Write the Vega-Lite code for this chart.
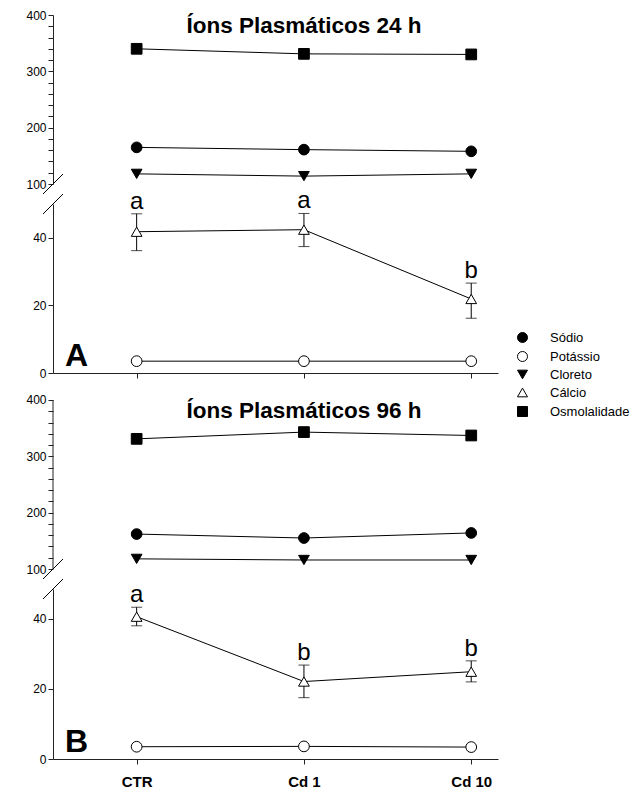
{
  "$schema": "https://vega.github.io/schema/vega-lite/v6.json",
  "background": "white",
  "padding": {"left": 25, "top": 9, "right": 5, "bottom": 5},
  "config": {
    "font": "Liberation Sans",
    "view": {"stroke": null},
    "axis": {"grid": false, "domainColor": "#222", "tickColor": "#222", "labelColor": "#000", "labelFont": "Liberation Sans", "labelFontSize": 12, "domainWidth": 1, "tickWidth": 1, "labelOverlap": false}
  },
  "datasets": {
    "ions": [
      {"painel": "A", "ion": "Sódio", "grupo": "CTR", "idx": 0, "valor": 165},
      {"painel": "A", "ion": "Sódio", "grupo": "Cd 1", "idx": 1, "valor": 161},
      {"painel": "A", "ion": "Sódio", "grupo": "Cd 10", "idx": 2, "valor": 158},
      {"painel": "A", "ion": "Potássio", "grupo": "CTR", "idx": 0, "valor": 3.5},
      {"painel": "A", "ion": "Potássio", "grupo": "Cd 1", "idx": 1, "valor": 3.5},
      {"painel": "A", "ion": "Potássio", "grupo": "Cd 10", "idx": 2, "valor": 3.5},
      {"painel": "A", "ion": "Cloreto", "grupo": "CTR", "idx": 0, "valor": 118},
      {"painel": "A", "ion": "Cloreto", "grupo": "Cd 1", "idx": 1, "valor": 114},
      {"painel": "A", "ion": "Cloreto", "grupo": "Cd 10", "idx": 2, "valor": 118},
      {"painel": "A", "ion": "Cálcio", "grupo": "CTR", "idx": 0, "valor": 41.8, "lo": 36.2, "hi": 47.1, "letra": "a"},
      {"painel": "A", "ion": "Cálcio", "grupo": "Cd 1", "idx": 1, "valor": 42.4, "lo": 37.4, "hi": 47.2, "letra": "a"},
      {"painel": "A", "ion": "Cálcio", "grupo": "Cd 10", "idx": 2, "valor": 21.9, "lo": 16.2, "hi": 26.6, "letra": "b"},
      {"painel": "A", "ion": "Osmolalidade", "grupo": "CTR", "idx": 0, "valor": 340},
      {"painel": "A", "ion": "Osmolalidade", "grupo": "Cd 1", "idx": 1, "valor": 331},
      {"painel": "A", "ion": "Osmolalidade", "grupo": "Cd 10", "idx": 2, "valor": 330},
      {"painel": "B", "ion": "Sódio", "grupo": "CTR", "idx": 0, "valor": 162},
      {"painel": "B", "ion": "Sódio", "grupo": "Cd 1", "idx": 1, "valor": 155},
      {"painel": "B", "ion": "Sódio", "grupo": "Cd 10", "idx": 2, "valor": 164},
      {"painel": "B", "ion": "Potássio", "grupo": "CTR", "idx": 0, "valor": 3.5},
      {"painel": "B", "ion": "Potássio", "grupo": "Cd 1", "idx": 1, "valor": 3.6},
      {"painel": "B", "ion": "Potássio", "grupo": "Cd 10", "idx": 2, "valor": 3.4},
      {"painel": "B", "ion": "Cloreto", "grupo": "CTR", "idx": 0, "valor": 118},
      {"painel": "B", "ion": "Cloreto", "grupo": "Cd 1", "idx": 1, "valor": 116},
      {"painel": "B", "ion": "Cloreto", "grupo": "Cd 10", "idx": 2, "valor": 116},
      {"painel": "B", "ion": "Cálcio", "grupo": "CTR", "idx": 0, "valor": 40.6, "lo": 38.0, "hi": 43.3, "letra": "a"},
      {"painel": "B", "ion": "Cálcio", "grupo": "Cd 1", "idx": 1, "valor": 22.1, "lo": 17.5, "hi": 26.8, "letra": "b"},
      {"painel": "B", "ion": "Cálcio", "grupo": "Cd 10", "idx": 2, "valor": 24.9, "lo": 22.0, "hi": 28.0, "letra": "b"},
      {"painel": "B", "ion": "Osmolalidade", "grupo": "CTR", "idx": 0, "valor": 331},
      {"painel": "B", "ion": "Osmolalidade", "grupo": "Cd 1", "idx": 1, "valor": 343},
      {"painel": "B", "ion": "Osmolalidade", "grupo": "Cd 10", "idx": 2, "valor": 337}
    ],
    "rotulos": [
      {"painel": "A", "titulo": "Íons Plasmáticos 24 h", "letra": "A"},
      {"painel": "B", "titulo": "Íons Plasmáticos 96 h", "letra": "B"}
    ]
  },
  "bounds": "flush",
  "spacing": 20,
  "vconcat": [
    {
      "width": 445, "height": 169,
      "layer": [
        {
          "data": {"name": "ions"},
          "transform": [{"filter": "datum.painel === 'A' && (datum.ion === 'Sódio' || datum.ion === 'Cloreto' || datum.ion === 'Osmolalidade')"}],
          "mark": {"type": "line", "color": "black", "strokeWidth": 1},
          "encoding": {
            "x": {"field": "idx", "type": "quantitative", "scale": {"domain": [-0.5, 2.16], "nice": false, "zero": false}, "axis": null},
            "y": {"field": "valor", "type": "quantitative", "scale": {"domain": [100, 400], "nice": false, "zero": false},
              "axis": {"title": null, "values": [100, 120, 140, 160, 180, 200, 220, 240, 260, 280, 300, 320, 340, 360, 380, 400], "labelExpr": "datum.value % 100 === 0 ? datum.label : ''", "labelOverlap": false, "tickSize": 5, "labelPadding": 2, "labelFontSize": 12, "encode": {"ticks": {"update": {"x2": {"value": {"expr": "datum.value % 100 === 0 ? -5 : -3"}}}}}}},
            "detail": {"field": "ion"}
          }
        },
        {
          "data": {"name": "ions"},
          "transform": [{"filter": "datum.painel === 'A' && (datum.ion === 'Sódio' || datum.ion === 'Cloreto' || datum.ion === 'Osmolalidade')"}],
          "mark": {"type": "point", "filled": true, "stroke": "black", "strokeWidth": 1, "opacity": 1, "size": 115},
          "encoding": {
            "x": {"field": "idx", "type": "quantitative", "axis": null},
            "y": {"field": "valor", "type": "quantitative",
              "axis": {"title": null, "values": [100, 120, 140, 160, 180, 200, 220, 240, 260, 280, 300, 320, 340, 360, 380, 400], "labelExpr": "datum.value % 100 === 0 ? datum.label : ''", "labelOverlap": false, "tickSize": 5, "labelPadding": 2, "labelFontSize": 12, "encode": {"ticks": {"update": {"x2": {"value": {"expr": "datum.value % 100 === 0 ? -5 : -3"}}}}}}},
            "shape": {"field": "ion", "type": "nominal", "scale": {"domain": ["Sódio", "Potássio", "Cloreto", "Cálcio", "Osmolalidade"], "range": ["circle", "circle", "triangle-down", "triangle-up", "square"]},
              "legend": {"title": null, "orient": "none", "legendX": 463, "legendY": 316, "padding": 0, "labelFont": "Liberation Sans", "labelFontSize": 13, "labelColor": "black", "labelOffset": 21, "symbolSize": 100, "symbolStrokeWidth": 1, "symbolStrokeColor": "black", "symbolOpacity": 1, "rowPadding": 4,
                "encode": {"symbols": {"update": {"stroke": {"value": "black"}, "strokeWidth": {"value": 1}, "shape": {"value": {"expr": "datum.value === 'Cloreto' ? 'M-3,0H-0.5M0.5,0H3M-1,-0.85L1,-0.85L0,0.9Z' : datum.value === 'Cálcio' ? 'M-3,0H-0.5M0.5,0H3M-1,0.85L1,0.85L0,-0.9Z' : datum.value === 'Osmolalidade' ? 'M-3,0H-1M1,0H3M-1,-1H1V1H-1Z' : 'M-3,0H-1M1,0H3M1,0A1,1,0,1,1,-1,0A1,1,0,1,1,1,0Z'"}}}}}}},
            "fill": {"field": "ion", "type": "nominal", "scale": {"domain": ["Sódio", "Potássio", "Cloreto", "Cálcio", "Osmolalidade"], "range": ["black", "white", "black", "white", "black"]},
              "legend": {"title": null, "orient": "none", "legendX": 463, "legendY": 316, "padding": 0, "labelFont": "Liberation Sans", "labelFontSize": 13, "labelColor": "black", "labelOffset": 21, "symbolSize": 100, "symbolStrokeWidth": 1, "symbolStrokeColor": "black", "symbolOpacity": 1, "rowPadding": 4,
                "encode": {"symbols": {"update": {"stroke": {"value": "black"}, "strokeWidth": {"value": 1}, "shape": {"value": {"expr": "datum.value === 'Cloreto' ? 'M-3,0H-0.5M0.5,0H3M-1,-0.85L1,-0.85L0,0.9Z' : datum.value === 'Cálcio' ? 'M-3,0H-0.5M0.5,0H3M-1,0.85L1,0.85L0,-0.9Z' : datum.value === 'Osmolalidade' ? 'M-3,0H-1M1,0H3M-1,-1H1V1H-1Z' : 'M-3,0H-1M1,0H3M1,0A1,1,0,1,1,-1,0A1,1,0,1,1,1,0Z'"}}}}}}}
          }
        },
        {
          "data": {"name": "rotulos"},
          "transform": [{"filter": "datum.painel === 'A'"}],
          "mark": {"type": "text", "font": "Liberation Sans", "fontSize": 22.5, "fontWeight": "bold", "align": "center", "baseline": "middle", "color": "black"},
          "encoding": {
            "x": {"datum": 1, "type": "quantitative", "axis": null},
            "y": {"datum": 380, "type": "quantitative",
              "axis": {"title": null, "values": [100, 120, 140, 160, 180, 200, 220, 240, 260, 280, 300, 320, 340, 360, 380, 400], "labelExpr": "datum.value % 100 === 0 ? datum.label : ''", "labelOverlap": false, "tickSize": 5, "labelPadding": 2, "labelFontSize": 12, "encode": {"ticks": {"update": {"x2": {"value": {"expr": "datum.value % 100 === 0 ? -5 : -3"}}}}}}},
            "text": {"field": "titulo"}
          }
        },
        {
          "data": {"name": "rotulos"},
          "transform": [{"filter": "datum.painel === 'A'"}],
          "mark": {"type": "point", "shape": "M-1,1L1,-1", "size": 400, "filled": false, "stroke": "black", "strokeWidth": 1, "opacity": 1},
          "encoding": {
            "x": {"datum": -0.5, "type": "quantitative", "axis": null},
            "y": {"datum": 100, "type": "quantitative",
              "axis": {"title": null, "values": [100, 120, 140, 160, 180, 200, 220, 240, 260, 280, 300, 320, 340, 360, 380, 400], "labelExpr": "datum.value % 100 === 0 ? datum.label : ''", "labelOverlap": false, "tickSize": 5, "labelPadding": 2, "labelFontSize": 12, "encode": {"ticks": {"update": {"x2": {"value": {"expr": "datum.value % 100 === 0 ? -5 : -3"}}}}}}}
          }
        }
      ]
    },
    {
      "width": 445, "height": 169,
      "layer": [
        {
          "data": {"name": "ions"},
          "transform": [{"filter": "datum.painel === 'A' && (datum.ion === 'Potássio' || datum.ion === 'Cálcio')"}],
          "mark": {"type": "line", "color": "black", "strokeWidth": 1},
          "encoding": {
            "x": {"field": "idx", "type": "quantitative", "scale": {"domain": [-0.5, 2.16], "nice": false, "zero": false},
              "axis": {"title": null, "values": [0, 1, 2], "labels": false, "tickSize": 5}},
            "y": {"field": "valor", "type": "quantitative", "scale": {"domain": [0, 50], "nice": false, "zero": false},
              "axis": {"title": null, "values": [0, 20, 40], "tickSize": 5, "labelPadding": 2, "labelFontSize": 12}},
            "detail": {"field": "ion"}
          }
        },
        {
          "data": {"name": "ions"},
          "transform": [{"filter": "datum.painel === 'A' && datum.ion === 'Cálcio'"}],
          "mark": {"type": "errorbar", "ticks": true, "size": 11, "thickness": 1, "color": "black"},
          "encoding": {
            "x": {"field": "idx", "type": "quantitative", "axis": {"title": null, "values": [0, 1, 2], "labels": false, "tickSize": 5}},
            "y": {"field": "lo", "type": "quantitative", "axis": {"title": null, "values": [0, 20, 40], "tickSize": 5, "labelPadding": 2, "labelFontSize": 12}},
            "y2": {"field": "hi"}
          }
        },
        {
          "data": {"name": "ions"},
          "transform": [{"filter": "datum.painel === 'A' && (datum.ion === 'Potássio' || datum.ion === 'Cálcio')"}],
          "mark": {"type": "point", "filled": true, "stroke": "black", "strokeWidth": 1, "opacity": 1, "size": 115},
          "encoding": {
            "x": {"field": "idx", "type": "quantitative", "axis": {"title": null, "values": [0, 1, 2], "labels": false, "tickSize": 5}},
            "y": {"field": "valor", "type": "quantitative", "axis": {"title": null, "values": [0, 20, 40], "tickSize": 5, "labelPadding": 2, "labelFontSize": 12}},
            "shape": {"field": "ion", "type": "nominal", "scale": {"domain": ["Sódio", "Potássio", "Cloreto", "Cálcio", "Osmolalidade"], "range": ["circle", "circle", "triangle-down", "triangle-up", "square"]},
              "legend": {"title": null, "orient": "none", "legendX": 463, "legendY": 316, "padding": 0, "labelFont": "Liberation Sans", "labelFontSize": 13, "labelColor": "black", "labelOffset": 21, "symbolSize": 100, "symbolStrokeWidth": 1, "symbolStrokeColor": "black", "symbolOpacity": 1, "rowPadding": 4,
                "encode": {"symbols": {"update": {"stroke": {"value": "black"}, "strokeWidth": {"value": 1}, "shape": {"value": {"expr": "datum.value === 'Cloreto' ? 'M-3,0H-0.5M0.5,0H3M-1,-0.85L1,-0.85L0,0.9Z' : datum.value === 'Cálcio' ? 'M-3,0H-0.5M0.5,0H3M-1,0.85L1,0.85L0,-0.9Z' : datum.value === 'Osmolalidade' ? 'M-3,0H-1M1,0H3M-1,-1H1V1H-1Z' : 'M-3,0H-1M1,0H3M1,0A1,1,0,1,1,-1,0A1,1,0,1,1,1,0Z'"}}}}}}},
            "fill": {"field": "ion", "type": "nominal", "scale": {"domain": ["Sódio", "Potássio", "Cloreto", "Cálcio", "Osmolalidade"], "range": ["black", "white", "black", "white", "black"]},
              "legend": {"title": null, "orient": "none", "legendX": 463, "legendY": 316, "padding": 0, "labelFont": "Liberation Sans", "labelFontSize": 13, "labelColor": "black", "labelOffset": 21, "symbolSize": 100, "symbolStrokeWidth": 1, "symbolStrokeColor": "black", "symbolOpacity": 1, "rowPadding": 4,
                "encode": {"symbols": {"update": {"stroke": {"value": "black"}, "strokeWidth": {"value": 1}, "shape": {"value": {"expr": "datum.value === 'Cloreto' ? 'M-3,0H-0.5M0.5,0H3M-1,-0.85L1,-0.85L0,0.9Z' : datum.value === 'Cálcio' ? 'M-3,0H-0.5M0.5,0H3M-1,0.85L1,0.85L0,-0.9Z' : datum.value === 'Osmolalidade' ? 'M-3,0H-1M1,0H3M-1,-1H1V1H-1Z' : 'M-3,0H-1M1,0H3M1,0A1,1,0,1,1,-1,0A1,1,0,1,1,1,0Z'"}}}}}}}
          }
        },
        {
          "data": {"name": "ions"},
          "transform": [{"filter": "datum.painel === 'A' && datum.ion === 'Cálcio'"}],
          "mark": {"type": "text", "font": "Liberation Sans", "fontSize": 24, "align": "center", "baseline": "alphabetic", "dy": -5, "color": "black"},
          "encoding": {
            "x": {"field": "idx", "type": "quantitative", "axis": {"title": null, "values": [0, 1, 2], "labels": false, "tickSize": 5}},
            "y": {"field": "hi", "type": "quantitative", "axis": {"title": null, "values": [0, 20, 40], "tickSize": 5, "labelPadding": 2, "labelFontSize": 12}},
            "text": {"field": "letra"}
          }
        },
        {
          "data": {"name": "rotulos"},
          "transform": [{"filter": "datum.painel === 'A'"}],
          "mark": {"type": "text", "font": "Liberation Sans", "fontSize": 32, "fontWeight": "bold", "align": "left", "baseline": "alphabetic", "dx": 12, "dy": -7, "color": "black"},
          "encoding": {
            "x": {"datum": -0.5, "type": "quantitative", "axis": {"title": null, "values": [0, 1, 2], "labels": false, "tickSize": 5}},
            "y": {"datum": 0, "type": "quantitative", "axis": {"title": null, "values": [0, 20, 40], "tickSize": 5, "labelPadding": 2, "labelFontSize": 12}},
            "text": {"field": "letra"}
          }
        },
        {
          "data": {"name": "rotulos"},
          "transform": [{"filter": "datum.painel === 'A'"}],
          "mark": {"type": "point", "shape": "M-1,1L1,-1", "size": 400, "filled": false, "stroke": "black", "strokeWidth": 1, "opacity": 1},
          "encoding": {
            "x": {"datum": -0.5, "type": "quantitative", "axis": {"title": null, "values": [0, 1, 2], "labels": false, "tickSize": 5}},
            "y": {"datum": 50, "type": "quantitative", "axis": {"title": null, "values": [0, 20, 40], "tickSize": 5, "labelPadding": 2, "labelFontSize": 12}}
          }
        }
      ]
    },
    {
      "width": 445, "height": 176,
      "layer": [
        {
          "data": {"name": "ions"},
          "transform": [{"filter": "datum.painel === 'B' && (datum.ion === 'Sódio' || datum.ion === 'Cloreto' || datum.ion === 'Osmolalidade')"}],
          "mark": {"type": "line", "color": "black", "strokeWidth": 1},
          "encoding": {
            "x": {"field": "idx", "type": "quantitative", "scale": {"domain": [-0.5, 2.16], "nice": false, "zero": false}, "axis": null},
            "y": {"field": "valor", "type": "quantitative", "scale": {"domain": [100, 412.4], "nice": false, "zero": false},
              "axis": {"title": null, "domain": false, "values": [100, 120, 140, 160, 180, 200, 220, 240, 260, 280, 300, 320, 340, 360, 380, 400], "labelExpr": "datum.value % 100 === 0 ? datum.label : ''", "labelOverlap": false, "tickSize": 5, "labelPadding": 2, "labelFontSize": 12, "encode": {"ticks": {"update": {"x2": {"value": {"expr": "datum.value % 100 === 0 ? -5 : -3"}}}}}}},
            "detail": {"field": "ion"}
          }
        },
        {
          "data": {"name": "rotulos"},
          "transform": [{"filter": "datum.painel === 'B'"}],
          "mark": {"type": "rule", "color": "#222", "strokeWidth": 1},
          "encoding": {
            "x": {"datum": -0.5, "type": "quantitative", "axis": null},
            "y": {"datum": 100, "type": "quantitative",
              "axis": {"title": null, "domain": false, "values": [100, 120, 140, 160, 180, 200, 220, 240, 260, 280, 300, 320, 340, 360, 380, 400], "labelExpr": "datum.value % 100 === 0 ? datum.label : ''", "labelOverlap": false, "tickSize": 5, "labelPadding": 2, "labelFontSize": 12, "encode": {"ticks": {"update": {"x2": {"value": {"expr": "datum.value % 100 === 0 ? -5 : -3"}}}}}}},
            "y2": {"datum": 400}
          }
        },
        {
          "data": {"name": "ions"},
          "transform": [{"filter": "datum.painel === 'B' && (datum.ion === 'Sódio' || datum.ion === 'Cloreto' || datum.ion === 'Osmolalidade')"}],
          "mark": {"type": "point", "filled": true, "stroke": "black", "strokeWidth": 1, "opacity": 1, "size": 115},
          "encoding": {
            "x": {"field": "idx", "type": "quantitative", "axis": null},
            "y": {"field": "valor", "type": "quantitative",
              "axis": {"title": null, "domain": false, "values": [100, 120, 140, 160, 180, 200, 220, 240, 260, 280, 300, 320, 340, 360, 380, 400], "labelExpr": "datum.value % 100 === 0 ? datum.label : ''", "labelOverlap": false, "tickSize": 5, "labelPadding": 2, "labelFontSize": 12, "encode": {"ticks": {"update": {"x2": {"value": {"expr": "datum.value % 100 === 0 ? -5 : -3"}}}}}}},
            "shape": {"field": "ion", "type": "nominal", "scale": {"domain": ["Sódio", "Potássio", "Cloreto", "Cálcio", "Osmolalidade"], "range": ["circle", "circle", "triangle-down", "triangle-up", "square"]},
              "legend": {"title": null, "orient": "none", "legendX": 463, "legendY": 316, "padding": 0, "labelFont": "Liberation Sans", "labelFontSize": 13, "labelColor": "black", "labelOffset": 21, "symbolSize": 100, "symbolStrokeWidth": 1, "symbolStrokeColor": "black", "symbolOpacity": 1, "rowPadding": 4,
                "encode": {"symbols": {"update": {"stroke": {"value": "black"}, "strokeWidth": {"value": 1}, "shape": {"value": {"expr": "datum.value === 'Cloreto' ? 'M-3,0H-0.5M0.5,0H3M-1,-0.85L1,-0.85L0,0.9Z' : datum.value === 'Cálcio' ? 'M-3,0H-0.5M0.5,0H3M-1,0.85L1,0.85L0,-0.9Z' : datum.value === 'Osmolalidade' ? 'M-3,0H-1M1,0H3M-1,-1H1V1H-1Z' : 'M-3,0H-1M1,0H3M1,0A1,1,0,1,1,-1,0A1,1,0,1,1,1,0Z'"}}}}}}},
            "fill": {"field": "ion", "type": "nominal", "scale": {"domain": ["Sódio", "Potássio", "Cloreto", "Cálcio", "Osmolalidade"], "range": ["black", "white", "black", "white", "black"]},
              "legend": {"title": null, "orient": "none", "legendX": 463, "legendY": 316, "padding": 0, "labelFont": "Liberation Sans", "labelFontSize": 13, "labelColor": "black", "labelOffset": 21, "symbolSize": 100, "symbolStrokeWidth": 1, "symbolStrokeColor": "black", "symbolOpacity": 1, "rowPadding": 4,
                "encode": {"symbols": {"update": {"stroke": {"value": "black"}, "strokeWidth": {"value": 1}, "shape": {"value": {"expr": "datum.value === 'Cloreto' ? 'M-3,0H-0.5M0.5,0H3M-1,-0.85L1,-0.85L0,0.9Z' : datum.value === 'Cálcio' ? 'M-3,0H-0.5M0.5,0H3M-1,0.85L1,0.85L0,-0.9Z' : datum.value === 'Osmolalidade' ? 'M-3,0H-1M1,0H3M-1,-1H1V1H-1Z' : 'M-3,0H-1M1,0H3M1,0A1,1,0,1,1,-1,0A1,1,0,1,1,1,0Z'"}}}}}}}
          }
        },
        {
          "data": {"name": "rotulos"},
          "transform": [{"filter": "datum.painel === 'B'"}],
          "mark": {"type": "text", "font": "Liberation Sans", "fontSize": 22.5, "fontWeight": "bold", "align": "center", "baseline": "middle", "color": "black"},
          "encoding": {
            "x": {"datum": 1, "type": "quantitative", "axis": null},
            "y": {"datum": 380, "type": "quantitative",
              "axis": {"title": null, "domain": false, "values": [100, 120, 140, 160, 180, 200, 220, 240, 260, 280, 300, 320, 340, 360, 380, 400], "labelExpr": "datum.value % 100 === 0 ? datum.label : ''", "labelOverlap": false, "tickSize": 5, "labelPadding": 2, "labelFontSize": 12, "encode": {"ticks": {"update": {"x2": {"value": {"expr": "datum.value % 100 === 0 ? -5 : -3"}}}}}}},
            "text": {"field": "titulo"}
          }
        },
        {
          "data": {"name": "rotulos"},
          "transform": [{"filter": "datum.painel === 'B'"}],
          "mark": {"type": "point", "shape": "M-1,1L1,-1", "size": 400, "filled": false, "stroke": "black", "strokeWidth": 1, "opacity": 1},
          "encoding": {
            "x": {"datum": -0.5, "type": "quantitative", "axis": null},
            "y": {"datum": 100, "type": "quantitative",
              "axis": {"title": null, "domain": false, "values": [100, 120, 140, 160, 180, 200, 220, 240, 260, 280, 300, 320, 340, 360, 380, 400], "labelExpr": "datum.value % 100 === 0 ? datum.label : ''", "labelOverlap": false, "tickSize": 5, "labelPadding": 2, "labelFontSize": 12, "encode": {"ticks": {"update": {"x2": {"value": {"expr": "datum.value % 100 === 0 ? -5 : -3"}}}}}}}
          }
        }
      ]
    },
    {
      "width": 445, "height": 170,
      "layer": [
        {
          "data": {"name": "ions"},
          "transform": [{"filter": "datum.painel === 'B' && (datum.ion === 'Potássio' || datum.ion === 'Cálcio')"}],
          "mark": {"type": "line", "color": "black", "strokeWidth": 1},
          "encoding": {
            "x": {"field": "idx", "type": "quantitative", "scale": {"domain": [-0.5, 2.16], "nice": false, "zero": false},
              "axis": {"title": null, "values": [0, 1, 2], "tickSize": 5, "labelExpr": "datum.value === 0 ? 'CTR' : datum.value === 1 ? 'Cd 1' : 'Cd 10'", "labelFontWeight": "bold", "labelFontSize": 15, "labelPadding": 10}},
            "y": {"field": "valor", "type": "quantitative", "scale": {"domain": [0, 48.5], "nice": false, "zero": false},
              "axis": {"title": null, "values": [0, 20, 40], "tickSize": 5, "labelPadding": 2, "labelFontSize": 12}},
            "detail": {"field": "ion"}
          }
        },
        {
          "data": {"name": "ions"},
          "transform": [{"filter": "datum.painel === 'B' && datum.ion === 'Cálcio'"}],
          "mark": {"type": "errorbar", "ticks": true, "size": 11, "thickness": 1, "color": "black"},
          "encoding": {
            "x": {"field": "idx", "type": "quantitative", "axis": {"title": null, "values": [0, 1, 2], "tickSize": 5, "labelExpr": "datum.value === 0 ? 'CTR' : datum.value === 1 ? 'Cd 1' : 'Cd 10'", "labelFontWeight": "bold", "labelFontSize": 15, "labelPadding": 10}},
            "y": {"field": "lo", "type": "quantitative", "axis": {"title": null, "values": [0, 20, 40], "tickSize": 5, "labelPadding": 2, "labelFontSize": 12}},
            "y2": {"field": "hi"}
          }
        },
        {
          "data": {"name": "ions"},
          "transform": [{"filter": "datum.painel === 'B' && (datum.ion === 'Potássio' || datum.ion === 'Cálcio')"}],
          "mark": {"type": "point", "filled": true, "stroke": "black", "strokeWidth": 1, "opacity": 1, "size": 115},
          "encoding": {
            "x": {"field": "idx", "type": "quantitative", "axis": {"title": null, "values": [0, 1, 2], "tickSize": 5, "labelExpr": "datum.value === 0 ? 'CTR' : datum.value === 1 ? 'Cd 1' : 'Cd 10'", "labelFontWeight": "bold", "labelFontSize": 15, "labelPadding": 10}},
            "y": {"field": "valor", "type": "quantitative", "axis": {"title": null, "values": [0, 20, 40], "tickSize": 5, "labelPadding": 2, "labelFontSize": 12}},
            "shape": {"field": "ion", "type": "nominal", "scale": {"domain": ["Sódio", "Potássio", "Cloreto", "Cálcio", "Osmolalidade"], "range": ["circle", "circle", "triangle-down", "triangle-up", "square"]},
              "legend": {"title": null, "orient": "none", "legendX": 463, "legendY": 316, "padding": 0, "labelFont": "Liberation Sans", "labelFontSize": 13, "labelColor": "black", "labelOffset": 21, "symbolSize": 100, "symbolStrokeWidth": 1, "symbolStrokeColor": "black", "symbolOpacity": 1, "rowPadding": 4,
                "encode": {"symbols": {"update": {"stroke": {"value": "black"}, "strokeWidth": {"value": 1}, "shape": {"value": {"expr": "datum.value === 'Cloreto' ? 'M-3,0H-0.5M0.5,0H3M-1,-0.85L1,-0.85L0,0.9Z' : datum.value === 'Cálcio' ? 'M-3,0H-0.5M0.5,0H3M-1,0.85L1,0.85L0,-0.9Z' : datum.value === 'Osmolalidade' ? 'M-3,0H-1M1,0H3M-1,-1H1V1H-1Z' : 'M-3,0H-1M1,0H3M1,0A1,1,0,1,1,-1,0A1,1,0,1,1,1,0Z'"}}}}}}},
            "fill": {"field": "ion", "type": "nominal", "scale": {"domain": ["Sódio", "Potássio", "Cloreto", "Cálcio", "Osmolalidade"], "range": ["black", "white", "black", "white", "black"]},
              "legend": {"title": null, "orient": "none", "legendX": 463, "legendY": 316, "padding": 0, "labelFont": "Liberation Sans", "labelFontSize": 13, "labelColor": "black", "labelOffset": 21, "symbolSize": 100, "symbolStrokeWidth": 1, "symbolStrokeColor": "black", "symbolOpacity": 1, "rowPadding": 4,
                "encode": {"symbols": {"update": {"stroke": {"value": "black"}, "strokeWidth": {"value": 1}, "shape": {"value": {"expr": "datum.value === 'Cloreto' ? 'M-3,0H-0.5M0.5,0H3M-1,-0.85L1,-0.85L0,0.9Z' : datum.value === 'Cálcio' ? 'M-3,0H-0.5M0.5,0H3M-1,0.85L1,0.85L0,-0.9Z' : datum.value === 'Osmolalidade' ? 'M-3,0H-1M1,0H3M-1,-1H1V1H-1Z' : 'M-3,0H-1M1,0H3M1,0A1,1,0,1,1,-1,0A1,1,0,1,1,1,0Z'"}}}}}}}
          }
        },
        {
          "data": {"name": "ions"},
          "transform": [{"filter": "datum.painel === 'B' && datum.ion === 'Cálcio'"}],
          "mark": {"type": "text", "font": "Liberation Sans", "fontSize": 24, "align": "center", "baseline": "alphabetic", "dy": -5, "color": "black"},
          "encoding": {
            "x": {"field": "idx", "type": "quantitative", "axis": {"title": null, "values": [0, 1, 2], "tickSize": 5, "labelExpr": "datum.value === 0 ? 'CTR' : datum.value === 1 ? 'Cd 1' : 'Cd 10'", "labelFontWeight": "bold", "labelFontSize": 15, "labelPadding": 10}},
            "y": {"field": "hi", "type": "quantitative", "axis": {"title": null, "values": [0, 20, 40], "tickSize": 5, "labelPadding": 2, "labelFontSize": 12}},
            "text": {"field": "letra"}
          }
        },
        {
          "data": {"name": "rotulos"},
          "transform": [{"filter": "datum.painel === 'B'"}],
          "mark": {"type": "text", "font": "Liberation Sans", "fontSize": 32, "fontWeight": "bold", "align": "left", "baseline": "alphabetic", "dx": 12, "dy": -7, "color": "black"},
          "encoding": {
            "x": {"datum": -0.5, "type": "quantitative", "axis": {"title": null, "values": [0, 1, 2], "tickSize": 5, "labelExpr": "datum.value === 0 ? 'CTR' : datum.value === 1 ? 'Cd 1' : 'Cd 10'", "labelFontWeight": "bold", "labelFontSize": 15, "labelPadding": 10}},
            "y": {"datum": 0, "type": "quantitative", "axis": {"title": null, "values": [0, 20, 40], "tickSize": 5, "labelPadding": 2, "labelFontSize": 12}},
            "text": {"field": "letra"}
          }
        },
        {
          "data": {"name": "rotulos"},
          "transform": [{"filter": "datum.painel === 'B'"}],
          "mark": {"type": "point", "shape": "M-1,1L1,-1", "size": 400, "filled": false, "stroke": "black", "strokeWidth": 1, "opacity": 1},
          "encoding": {
            "x": {"datum": -0.5, "type": "quantitative", "axis": {"title": null, "values": [0, 1, 2], "tickSize": 5, "labelExpr": "datum.value === 0 ? 'CTR' : datum.value === 1 ? 'Cd 1' : 'Cd 10'", "labelFontWeight": "bold", "labelFontSize": 15, "labelPadding": 10}},
            "y": {"datum": 48.5, "type": "quantitative", "axis": {"title": null, "values": [0, 20, 40], "tickSize": 5, "labelPadding": 2, "labelFontSize": 12}}
          }
        }
      ]
    }
  ]
}
